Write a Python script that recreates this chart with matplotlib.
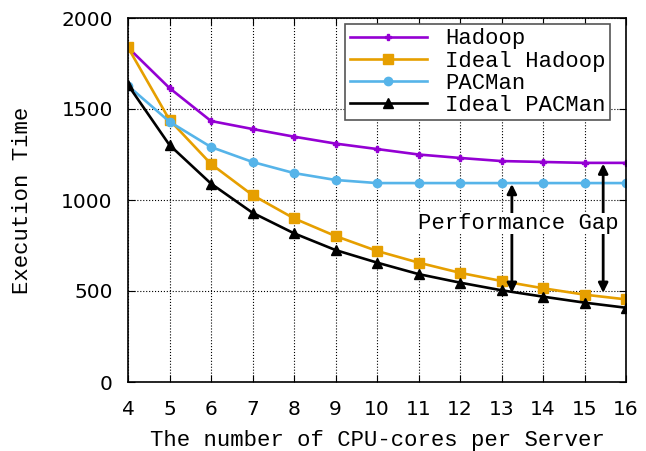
import numpy as np
import matplotlib.pyplot as plt

plt.rcParams['font.family'] = ['Liberation Mono', 'DejaVu Sans Mono']
plt.rcParams['font.size'] = 16

cores = [4, 5, 6, 7, 8, 9, 10, 11, 12, 13, 14, 15, 16]
hadoop = [1838, 1615, 1434, 1390, 1348, 1310, 1280, 1250, 1231, 1214, 1209, 1204, 1204]
ideal_hadoop = [1838, 1440, 1198, 1027, 899, 802, 720, 656, 600, 555, 515, 480, 454]
pacman = [1628, 1430, 1291, 1209, 1148, 1110, 1093, 1093, 1093, 1093, 1093, 1093, 1093]
ideal_pacman = [1632, 1302, 1090, 930, 817, 725, 656, 593, 546, 504, 469, 436, 408]

# performance gap arrows: x, top, bottom
gaps = [(13.25, 1088, 490), (15.45, 1200, 490)]

fig = plt.figure(figsize=(6.46, 4.51), dpi=100)
ax = fig.add_axes([128 / 646, 1 - 382 / 451, 498 / 646, 364 / 451])

ax.plot(cores, hadoop, color='#9400D3', lw=1.9, marker='P', ms=5, label='Hadoop')
ax.plot(cores, ideal_hadoop, color='#E69F00', lw=1.9, marker='s', ms=7, label='Ideal Hadoop')
ax.plot(cores, pacman, color='#56B4E9', lw=1.9, marker='o', ms=6, label='PACMan')
ax.plot(cores, ideal_pacman, color='black', lw=1.9, marker='^', ms=7, label='Ideal PACMan')

for x, top, bot in gaps:
    ax.annotate('', xy=(x, top), xytext=(x, bot),
                arrowprops=dict(arrowstyle='<|-|>', color='black', lw=2,
                                mutation_scale=14, shrinkA=0, shrinkB=0))

ax.text(10.99, 873, 'Performance Gap', va='center', ha='left',
        bbox=dict(facecolor='white', edgecolor='none', pad=0), zorder=6)

ax.set_xlim(4, 16)
ax.set_ylim(0, 2000)
ax.set_xticks(cores)
ax.set_yticks([0, 500, 1000, 1500, 2000])
ax.tick_params(direction='in', top=True, right=True, length=5,
               labelsize=14.5, labelfontfamily='DejaVu Sans')
ax.tick_params(axis='x', pad=13)
ax.tick_params(axis='y', pad=11)
ax.grid(True, linestyle=':', color='black', lw=0.8)
for s in ax.spines.values():
    s.set_linewidth(1.2)

ax.set_xlabel('The number of CPU-cores per Server', labelpad=8)
ax.set_ylabel('Execution Time', labelpad=20)

leg = ax.legend(loc='upper right', bbox_to_anchor=(610 / 646, 1 - 24 / 451),
                bbox_transform=fig.transFigure, borderaxespad=0,
                fancybox=False, edgecolor='#555555', framealpha=1,
                handlelength=3.5, labelspacing=0.05, borderpad=0.2, handletextpad=0.8)
leg.get_frame().set_linewidth(1.2)

fig.savefig('out.png', dpi=100)
